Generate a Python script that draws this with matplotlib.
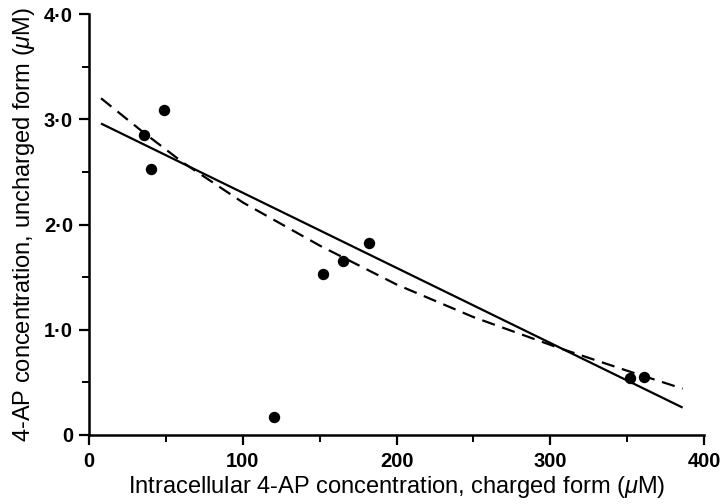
import numpy as np
import matplotlib
matplotlib.use("Agg")
import matplotlib.pyplot as plt
from matplotlib.ticker import MultipleLocator, FuncFormatter

plt.rcParams['font.family'] = ['Liberation Sans', 'DejaVu Sans']
plt.rcParams['mathtext.fontset'] = 'custom'
plt.rcParams['mathtext.it'] = 'Liberation Sans:italic'
plt.rcParams['mathtext.rm'] = 'Liberation Sans'

# measured points: charged (x) vs uncharged (y) 4-AP concentration
charged = [35.7, 40.2, 48.6, 120.0, 152.4, 165.4, 182.2, 352.0, 360.6]
uncharged = [2.85, 2.53, 3.09, 0.17, 1.53, 1.65, 1.82, 0.54, 0.55]

# solid line (linear fit), end points
fit_x = [7.8, 386.0]
fit_y = [2.96, 0.26]

# dashed curve, points
curve_x = [7.8, 35, 61, 100, 150, 200, 250, 305, 350, 386]
curve_y = [3.20, 2.88, 2.59, 2.21, 1.80, 1.43, 1.12, 0.83, 0.61, 0.44]

fig = plt.figure(figsize=(7.22, 5.04), dpi=100)
ax = fig.add_axes([0.1233, 0.137, 0.852, 0.835])

ax.plot(fit_x, fit_y, color='black', lw=1.6, solid_capstyle='butt')
ax.plot(curve_x, curve_y, color='black', lw=1.6, dashes=(6, 3.5))
ax.plot(charged, uncharged, 'o', color='black', markersize=7.2, clip_on=False)

ax.set_xlim(0, 400)
ax.set_ylim(0, 4.0)

for side in ('top', 'right'):
    ax.spines[side].set_visible(False)
for side in ('left', 'bottom'):
    ax.spines[side].set_linewidth(1.8)

ax.xaxis.set_major_locator(MultipleLocator(100))
ax.xaxis.set_minor_locator(MultipleLocator(50))
ax.yaxis.set_major_locator(MultipleLocator(1.0))
ax.yaxis.set_minor_locator(MultipleLocator(0.5))


def yfmt(v, pos):
    if abs(v) < 1e-9:
        return '0'
    return f'{v:.1f}'.replace('.', '\u00b7')


ax.yaxis.set_major_formatter(FuncFormatter(yfmt))
ax.tick_params(which='major', direction='out', length=7.5, width=1.6,
               labelsize=14.5)
ax.tick_params(which='minor', direction='out', length=5, width=1.4)
ax.tick_params(axis='x', which='major', pad=5)
ax.tick_params(axis='y', which='major', pad=4)
for lab in ax.get_xticklabels() + ax.get_yticklabels():
    lab.set_fontweight('bold')

ax.set_xlabel(r'Intracellular 4-AP concentration, charged form ($\mu$M)',
              fontsize=17, labelpad=2)
ax.set_ylabel(r'4-AP concentration, uncharged form ($\mu$M)',
              fontsize=17, labelpad=5)

fig.savefig('out.png', dpi=100)
